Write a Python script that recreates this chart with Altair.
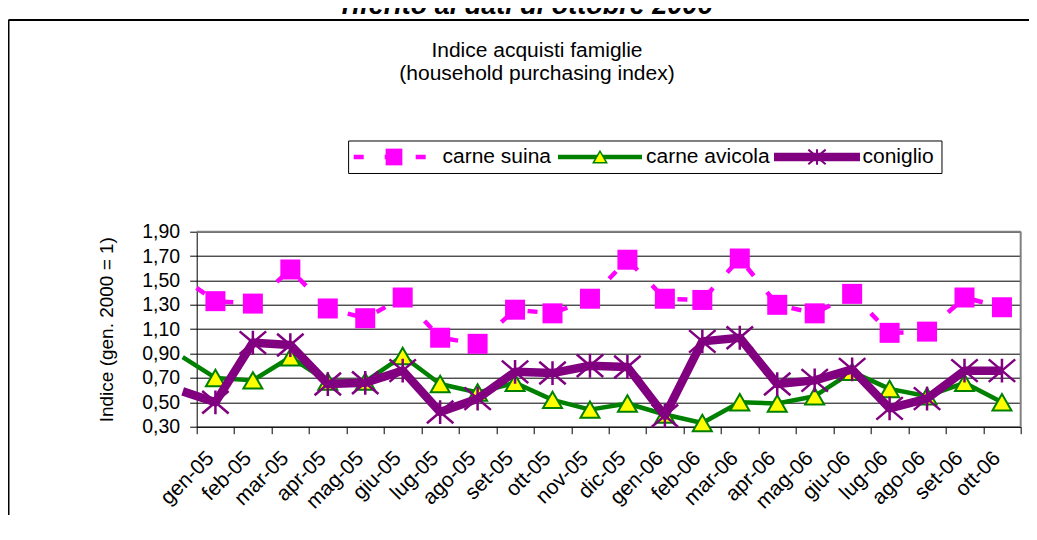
import altair as alt
import pandas as pd

# ---------------- data ----------------
months = ["gen-05", "feb-05", "mar-05", "apr-05", "mag-05", "giu-05", "lug-05",
          "ago-05", "set-05", "ott-05", "nov-05", "dic-05", "gen-06", "feb-06",
          "mar-06", "apr-06", "mag-06", "giu-06", "lug-06", "ago-06", "set-06",
          "ott-06"]
suina = [1.33, 1.31, 1.59, 1.27, 1.19, 1.36, 1.03, 0.98, 1.26, 1.23, 1.35,
         1.67, 1.35, 1.34, 1.68, 1.30, 1.23, 1.39, 1.07, 1.08, 1.36, 1.28]
avicola = [0.70, 0.68, 0.87, 0.67, 0.67, 0.88, 0.65, 0.58, 0.66, 0.52, 0.44,
           0.49, 0.40, 0.33, 0.50, 0.49, 0.55, 0.75, 0.61, 0.55, 0.66, 0.50]
coniglio = [0.50, 0.99, 0.97, 0.65, 0.66, 0.76, 0.42, 0.53, 0.75, 0.74, 0.80,
            0.79, 0.39, 1.00, 1.03, 0.65, 0.68, 0.77, 0.45, 0.53, 0.76, 0.76]
# where the lines enter the picture on the left (previous month, cut off)
lead_pos = -0.874
lead_suina = 1.52
lead_avicola = 0.87
lead_coniglio = 0.59
y_ticks = [0.30, 0.50, 0.70, 0.90, 1.10, 1.30, 1.50, 1.70, 1.90]
series_names = ["carne suina", "carne avicola", "coniglio"]
top_text = "riferito ai dati di ottobre 2006"
title_lines = ["Indice acquisti famiglie", "(household purchasing index)"]
y_title = "Indice (gen. 2000 = 1)"

# ---------------- style ----------------
FONT = "Liberation Sans, Arial, sans-serif"
W, H = 824, 195
N = len(months)
PINK, GREEN, PURPLE, YELLOW = "#FF00FF", "#008000", "#800080", "#FFFF00"
ASTER = "M-1,-0.85L1,0.85M-1,0.85L1,-0.85M0,-0.9L0,0.9"

x_scale = alt.Scale(domain=[-0.5, N - 0.5], nice=False, zero=False)
y_scale = alt.Scale(domain=[0.30, 1.90], nice=False, zero=False)

label_arr = "[" + ",".join("'%s'" % m for m in months) + "]"
x_axis = alt.Axis(
    values=[k - 0.5 for k in range(N + 1)],
    labelExpr="datum.value < %d ? %s[round(datum.value + 0.5)] : ''" % (N - 1, label_arr),
    title=None, grid=False, domainColor="black", domainWidth=1,
    tickColor="black", tickSize=7, tickWidth=1,
    labelAngle=-45, labelAlign="right", labelBaseline="middle",
    labelOffset=13.5, labelPadding=21, labelFont=FONT, labelFontSize=21,
    labelColor="black", labelOverlap=False, labelBound=False, labelFlush=False,
)
y_axis = alt.Axis(
    values=y_ticks,
    labelExpr="replace(format(datum.value, '.2f'), '.', ',')",
    grid=True, gridColor="black", gridWidth=1,
    domainColor="black", domainWidth=1, tickColor="black", tickSize=7,
    labelPadding=10, labelFont=FONT, labelFontSize=19.5, labelColor="black",
    labelOverlap=False, labelBound=False, labelFlush=False,
    title=y_title, titleFont=FONT, titleFontSize=19, titleFontWeight="normal",
    titleColor="black", titleAngle=270, titleX=-90.2, titleY=97.5,
    titleAlign="center", titleBaseline="middle",
)
x_enc = alt.X("i:Q", scale=x_scale, axis=x_axis)
y_enc = alt.Y("v:Q", scale=y_scale, axis=y_axis)


def frames(vals, lead):
    pts = pd.DataFrame({"i": list(range(N)), "v": vals})
    line = pd.DataFrame({"i": [lead_pos] + list(range(N)), "v": [lead] + list(vals)})
    return pts, line


one = pd.DataFrame({"k": [0]})


def rule(x, y, x2=None, y2=None, color="black", width=1.0, dash=None):
    enc = {"x": alt.value(x), "y": alt.value(y)}
    if x2 is not None:
        enc["x2"] = alt.value(x2)
    if y2 is not None:
        enc["y2"] = alt.value(y2)
    mk = dict(color=color, strokeWidth=width)
    if dash:
        mk["strokeDash"] = dash
    return alt.Chart(one).mark_rule(**mk).encode(**enc)


def text(txt, x, y, size, align="center", baseline="alphabetic",
         weight="normal", style="normal"):
    return alt.Chart(pd.DataFrame({"t": [txt]})).mark_text(
        font=FONT, fontSize=size, fontWeight=weight, fontStyle=style,
        align=align, baseline=baseline, color="black",
    ).encode(x=alt.value(x), y=alt.value(y), text="t:N")


def sym(x, y, shape, size, fill, stroke, sw, filled=True):
    mk = dict(shape=shape, size=size, filled=filled, opacity=1,
              stroke=stroke, strokeWidth=sw)
    if filled:
        mk["fill"] = fill
    return alt.Chart(one).mark_point(**mk).encode(x=alt.value(x), y=alt.value(y))


layers = []

# plot frame (top / right in grey)
layers.append(rule(0, 0, x2=W, color="#808080", width=2))
layers.append(rule(W, 0, y2=H, color="#808080", width=2))

# series
s_pts, s_line = frames(suina, lead_suina)
a_pts, a_line = frames(avicola, lead_avicola)
c_pts, c_line = frames(coniglio, lead_coniglio)

layers.append(alt.Chart(s_line).mark_line(
    color=PINK, strokeWidth=4.5, strokeDash=[10, 21], strokeDashOffset=14,
    strokeJoin="round").encode(x=x_enc, y=y_enc))
layers.append(alt.Chart(s_pts).mark_point(
    shape="square", size=400, filled=True, fill=PINK, stroke=PINK,
    strokeWidth=0, opacity=1).encode(x=x_enc, y=y_enc))
layers.append(alt.Chart(a_line).mark_line(
    color=GREEN, strokeWidth=4.5, strokeJoin="round").encode(x=x_enc, y=y_enc))
layers.append(alt.Chart(a_pts).mark_point(
    shape="triangle-up", size=360, filled=True, fill=YELLOW, stroke=GREEN,
    strokeWidth=2, opacity=1).encode(x=x_enc, y=y_enc))
layers.append(alt.Chart(c_line).mark_line(
    color=PURPLE, strokeWidth=8.5, strokeJoin="round").encode(x=x_enc, y=y_enc))
layers.append(alt.Chart(c_pts).mark_point(
    shape=ASTER, size=700, filled=False, color=PURPLE, strokeWidth=2.5,
    opacity=1).encode(x=x_enc, y=y_enc))

# outer chart box
layers.append(rule(-188.2, -211.7, x2=840, width=2))
layers.append(rule(-188.2, -211.7, y2=320, width=2))

# clipped heading above the box
layers.append(text(top_text, 330.3, -217.7, 27, weight="bold", style="italic"))

# chart title
layers.append(text(title_lines[0], 340.3, -175, 21))
layers.append(text(title_lines[1], 340.3, -151.7, 21))

# legend
LY = -74.7
layers.append(alt.Chart(one).mark_rect(fill="white", stroke="black", strokeWidth=1).encode(
    x=alt.value(151.9), x2=alt.value(745.3), y=alt.value(-90.7), y2=alt.value(-58.2)))
layers.append(rule(157, LY, x2=229.3, color=PINK, width=4.5, dash=[10, 21]))
layers.append(sym(197.3, LY, "square", 280, PINK, PINK, 0))
layers.append(text(series_names[0], 245.8, LY, 21, align="left", baseline="middle"))
layers.append(rule(361.3, LY, x2=445.3, color=GREEN, width=4.5))
layers.append(sym(403.3, LY, "triangle-up", 180, YELLOW, GREEN, 1.5))
layers.append(text(series_names[1], 449.3, LY, 21, align="left", baseline="middle"))
layers.append(rule(577.3, LY, x2=663.3, color=PURPLE, width=8.5))
layers.append(sym(620.3, LY, ASTER, 300, None, PURPLE, 2, filled=False))
layers.append(text(series_names[2], 665.8, LY, 21, align="left", baseline="middle"))

chart = alt.layer(*layers).properties(
    width=W, height=H,
    autosize=alt.AutoSizeParams(type="none"),
    padding={"left": 188.7, "top": 223.7, "right": 8, "bottom": 88},
    background="white",
).configure_view(stroke=None)

chart.save("out.html", embed_options={"renderer": "svg", "actions": False})
